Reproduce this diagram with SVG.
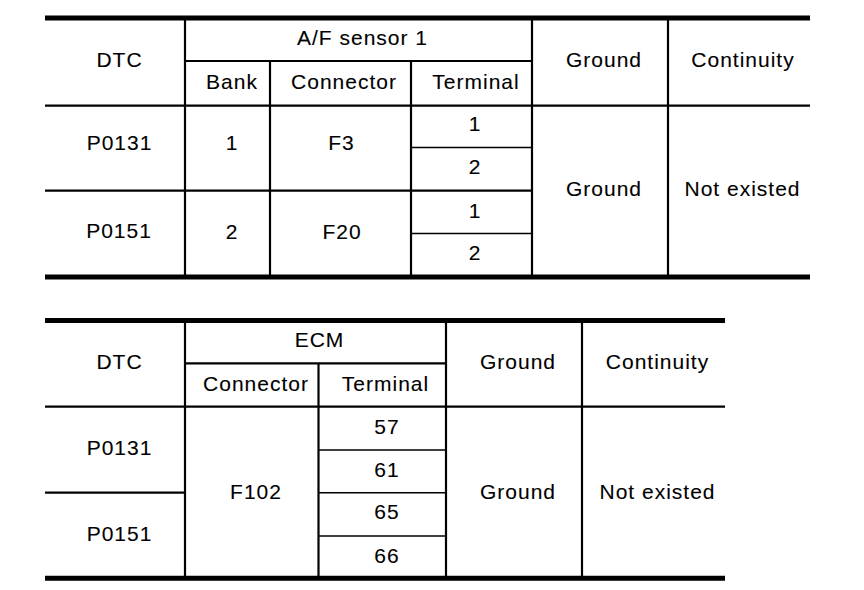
<svg xmlns="http://www.w3.org/2000/svg" width="864" height="590" viewBox="0 0 864 590">
<style>
text{font-family:"Liberation Sans",Arial,Helvetica,sans-serif;font-size:21px;letter-spacing:1px;fill:#000;stroke:#000;stroke-width:0.1;text-anchor:middle}
line{stroke:#000;stroke-linecap:butt}
.thick{stroke-width:5}
.med{stroke-width:2.2}
.thin{stroke-width:1.5}
</style>
<rect width="864" height="590" fill="#fff"/>
<g id="table1">
 <g id="t1-lines">
  <line class="thick" x1="45" y1="18" x2="810" y2="18"/>
  <line class="med" x1="185" y1="61" x2="532" y2="61"/>
  <line class="med" x1="45" y1="105.7" x2="810" y2="105.7"/>
  <line class="med" x1="45" y1="190.7" x2="532" y2="190.7"/>
  <line class="thin" x1="411" y1="147.5" x2="532" y2="147.5"/>
  <line class="thin" x1="411" y1="233.5" x2="532" y2="233.5"/>
  <line class="thick" x1="45" y1="277" x2="810" y2="277"/>
  <line class="med" x1="185" y1="18" x2="185" y2="277"/>
  <line class="med" x1="270" y1="61" x2="270" y2="277"/>
  <line class="med" x1="411" y1="61" x2="411" y2="277"/>
  <line class="med" x1="532" y1="18" x2="532" y2="277"/>
  <line class="med" x1="668" y1="18" x2="668" y2="277"/>
 </g>
 <g id="t1-header">
  <text x="119.5" y="67">DTC</text>
  <text x="362.5" y="45">A/F sensor 1</text>
  <text x="604" y="67">Ground</text>
  <text x="743" y="67">Continuity</text>
  <text x="232" y="89">Bank</text>
  <text x="344" y="89">Connector</text>
  <text x="476" y="89">Terminal</text>
 </g>
 <g id="t1-row-p0131">
  <text x="119.5" y="150">P0131</text>
  <text x="232" y="150">1</text>
  <text x="341.5" y="150">F3</text>
  <text x="475" y="131">1</text>
  <text x="475" y="174">2</text>
 </g>
 <g id="t1-row-p0151">
  <text x="119" y="238">P0151</text>
  <text x="232" y="239">2</text>
  <text x="342" y="239">F20</text>
  <text x="475" y="218">1</text>
  <text x="475" y="260">2</text>
 </g>
 <g id="t1-common">
  <text x="604" y="196">Ground</text>
  <text x="742.5" y="196">Not existed</text>
 </g>
</g>
<g id="table2">
 <g id="t2-lines">
  <line class="thick" x1="45" y1="320.5" x2="725" y2="320.5"/>
  <line class="med" x1="185" y1="363.3" x2="446" y2="363.3"/>
  <line class="med" x1="45" y1="406.7" x2="725" y2="406.7"/>
  <line class="med" x1="45" y1="492.7" x2="185" y2="492.7"/>
  <line class="thin" x1="318.5" y1="450" x2="446" y2="450"/>
  <line class="thin" x1="318.5" y1="492.7" x2="446" y2="492.7"/>
  <line class="thin" x1="318.5" y1="536" x2="446" y2="536"/>
  <line class="thick" x1="45" y1="578.3" x2="725" y2="578.3"/>
  <line class="med" x1="185" y1="320.5" x2="185" y2="578.3"/>
  <line class="med" x1="318.5" y1="363.3" x2="318.5" y2="578.3"/>
  <line class="med" x1="446" y1="320.5" x2="446" y2="578.3"/>
  <line class="med" x1="582" y1="320.5" x2="582" y2="578.3"/>
 </g>
 <g id="t2-header">
  <text x="119.5" y="369">DTC</text>
  <text x="319.5" y="347">ECM</text>
  <text x="518" y="369">Ground</text>
  <text x="657.5" y="369">Continuity</text>
  <text x="256" y="391">Connector</text>
  <text x="385.5" y="391">Terminal</text>
 </g>
 <g id="t2-dtc">
  <text x="119.5" y="455">P0131</text>
  <text x="119.5" y="540.7">P0151</text>
 </g>
 <g id="t2-connector">
  <text x="256" y="498.5">F102</text>
 </g>
 <g id="t2-terminals">
  <text x="387" y="433.5">57</text>
  <text x="387" y="476.7">61</text>
  <text x="387" y="519">65</text>
  <text x="387" y="562.5">66</text>
 </g>
 <g id="t2-common">
  <text x="518" y="498.5">Ground</text>
  <text x="657.5" y="498.5">Not existed</text>
 </g>
</g>
</svg>
